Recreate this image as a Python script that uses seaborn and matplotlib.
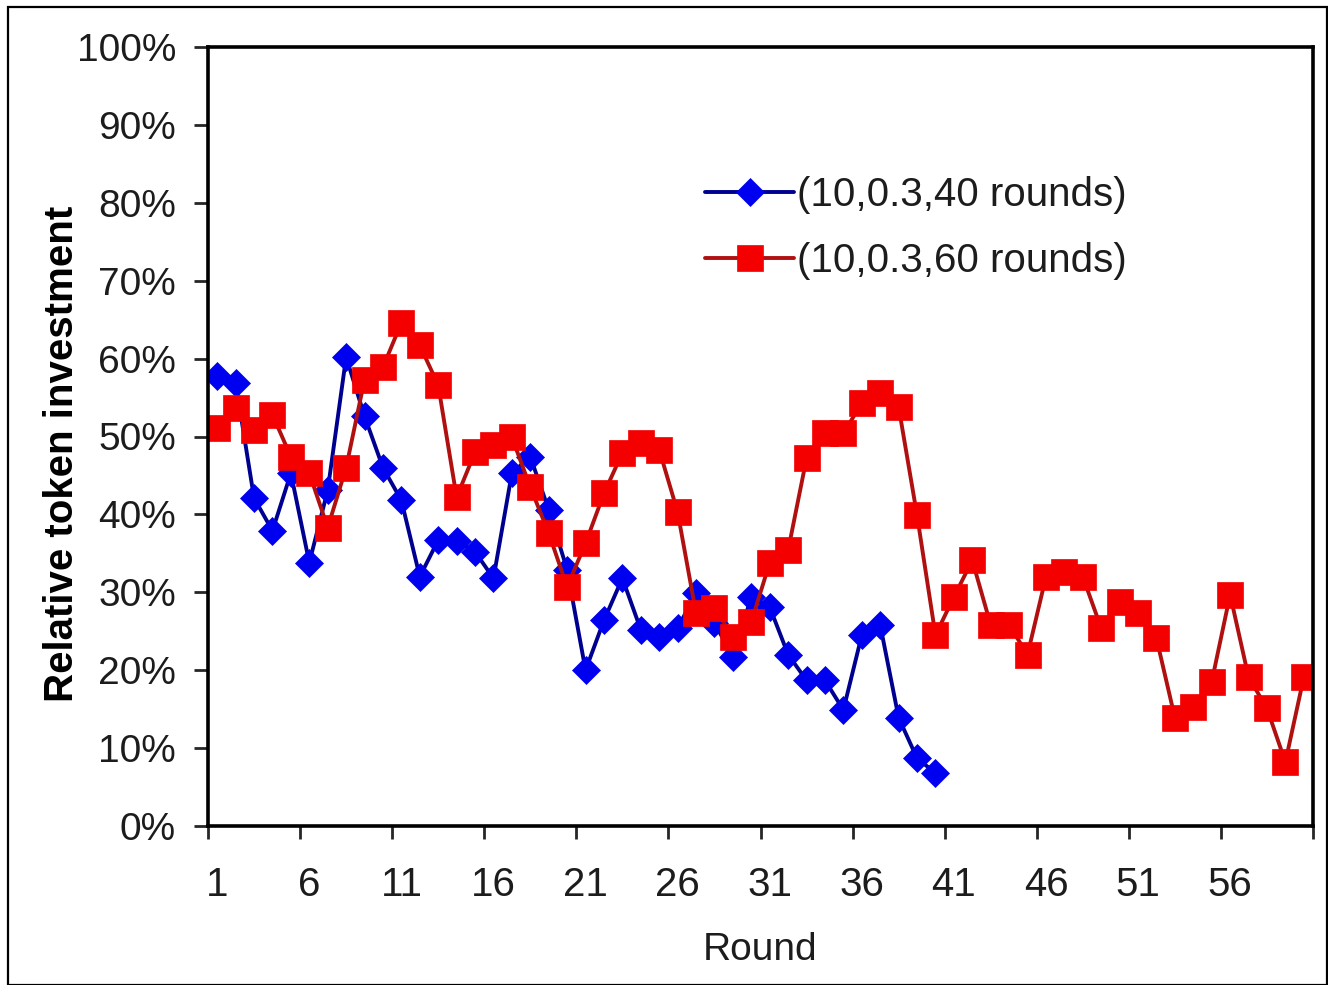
"""
Relative token investment per round, two treatments.
"""

import matplotlib
matplotlib.use("Agg")
import matplotlib.pyplot as plt
from matplotlib.patches import Rectangle
from matplotlib.ticker import PercentFormatter
import numpy as np
import pandas as pd
import seaborn as sns

# values (fractions)
rounds_40 = list(range(1, 41))
invest_40 = [
    0.578, 0.569, 0.421, 0.379, 0.453, 0.338, 0.431, 0.602, 0.526, 0.460,
    0.418, 0.320, 0.367, 0.366, 0.352, 0.318, 0.453, 0.474, 0.406, 0.329,
    0.200, 0.264, 0.318, 0.252, 0.243, 0.254, 0.299, 0.261, 0.217, 0.294,
    0.281, 0.220, 0.187, 0.187, 0.149, 0.245, 0.258, 0.139, 0.087, 0.068,
]

rounds_60 = list(range(1, 61))
invest_60 = [
    0.511, 0.537, 0.508, 0.528, 0.474, 0.453, 0.383, 0.460, 0.573, 0.589,
    0.646, 0.617, 0.566, 0.422, 0.480, 0.489, 0.499, 0.435, 0.376, 0.307,
    0.363, 0.427, 0.479, 0.492, 0.483, 0.403, 0.273, 0.280, 0.243, 0.262,
    0.338, 0.354, 0.472, 0.504, 0.504, 0.543, 0.556, 0.538, 0.399, 0.245,
    0.294, 0.341, 0.258, 0.258, 0.220, 0.320, 0.326, 0.320, 0.254, 0.288,
    0.273, 0.241, 0.139, 0.153, 0.185, 0.297, 0.191, 0.151, 0.082, 0.191,
]

label_40 = "(10,0.3,40 rounds)"
label_60 = "(10,0.3,60 rounds)"
x_tick_labels = [1, 6, 11, 16, 21, 26, 31, 36, 41, 46, 51, 56]

df_40 = pd.DataFrame({"Round": rounds_40, "Investment": invest_40})
df_60 = pd.DataFrame({"Round": rounds_60, "Investment": invest_60})

sns.set_style("white")
plt.rcParams["font.family"] = ["Liberation Sans", "DejaVu Sans"]
text_color = "#1c1c1c"

fig = plt.figure(figsize=(13.28, 9.85), dpi=100)
ax = fig.add_axes([208 / 1328, 1 - 826 / 985, 1105 / 1328, 779 / 985])

sns.lineplot(
    data=df_40, x="Round", y="Investment", ax=ax, label=label_40,
    color="#000090", linewidth=2.8, marker="D", markersize=14,
    markerfacecolor="#0000f0", markeredgecolor="#0000f0", markeredgewidth=0.5,
)
sns.lineplot(
    data=df_60, x="Round", y="Investment", ax=ax, label=label_60,
    color="#b01010", linewidth=2.8, marker="s", markersize=19,
    markerfacecolor="#f50000", markeredgecolor="#f50000", markeredgewidth=0.5,
)

ax.set_xlim(0.5, 60.5)
ax.set_ylim(0, 1)
ax.set_yticks(np.arange(0, 1.01, 0.1))
ax.yaxis.set_major_formatter(PercentFormatter(1.0, decimals=0))
ax.set_xticks(x_tick_labels)
ax.set_xticklabels([str(v) for v in x_tick_labels])
ax.set_xticks(np.arange(0.5, 61, 5), minor=True)

ax.tick_params(axis="y", which="major", direction="out", length=10, width=2,
               pad=13, labelsize=28, labelcolor=text_color, left=True)
ax.tick_params(axis="x", which="major", length=0, pad=29,
               labelsize=29, labelcolor=text_color, bottom=True)
ax.tick_params(axis="x", which="minor", direction="out", length=9, width=2,
               bottom=True)

for side in ["left", "right", "top", "bottom"]:
    ax.spines[side].set_visible(True)
    ax.spines[side].set_color("black")
    ax.spines[side].set_linewidth(2.6)

ax.set_xlabel("Round", fontsize=28, color=text_color, labelpad=20)
ax.set_ylabel("Relative token investment", fontsize=29, fontweight="bold",
              color="black")
ax.yaxis.set_label_coords(-0.115, 0.478)

ax.legend(loc="upper left", bbox_to_anchor=(0.45, 0.834), frameon=False,
          fontsize=29, handlelength=2.2, handletextpad=0.08, labelspacing=0.68,
          borderpad=0, borderaxespad=0, labelcolor=text_color)

# outer chart border
fig.patches.append(Rectangle((8 / 1328, 0), 1 - 9 / 1328, 1 - 7 / 985,
                             transform=fig.transFigure, fill=False,
                             edgecolor="black", linewidth=1.6))

fig.savefig("out.png", dpi=100)
plt.close(fig)
